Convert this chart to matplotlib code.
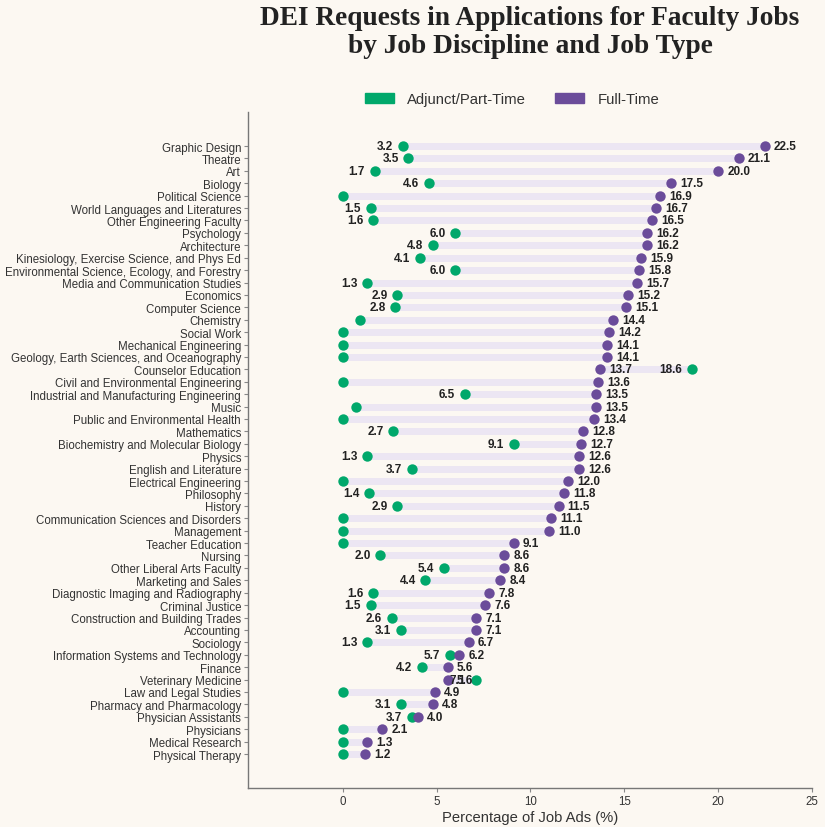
"""Dumbbell chart: DEI requests in faculty job ads by discipline and job type."""

import matplotlib.pyplot as plt
from matplotlib.patches import Patch

disciplines = [
    "Graphic Design", "Theatre", "Art", "Biology", "Political Science",
    "World Languages and Literatures", "Other Engineering Faculty", "Psychology",
    "Architecture", "Kinesiology, Exercise Science, and Phys Ed",
    "Environmental Science, Ecology, and Forestry", "Media and Communication Studies",
    "Economics", "Computer Science", "Chemistry", "Social Work",
    "Mechanical Engineering", "Geology, Earth Sciences, and Oceanography",
    "Counselor Education", "Civil and Environmental Engineering",
    "Industrial and Manufacturing Engineering", "Music",
    "Public and Environmental Health", "Mathematics",
    "Biochemistry and Molecular Biology", "Physics", "English and Literature",
    "Electrical Engineering", "Philosophy", "History",
    "Communication Sciences and Disorders", "Management", "Teacher Education",
    "Nursing", "Other Liberal Arts Faculty", "Marketing and Sales",
    "Diagnostic Imaging and Radiography", "Criminal Justice",
    "Construction and Building Trades", "Accounting", "Sociology",
    "Information Systems and Technology", "Finance", "Veterinary Medicine",
    "Law and Legal Studies", "Pharmacy and Pharmacology", "Physician Assistants",
    "Physicians", "Medical Research", "Physical Therapy",
]
full_time = [
    22.5, 21.1, 20.0, 17.5, 16.9, 16.7, 16.5, 16.2, 16.2, 15.9,
    15.8, 15.7, 15.2, 15.1, 14.4, 14.2, 14.1, 14.1, 13.7, 13.6,
    13.5, 13.5, 13.4, 12.8, 12.7, 12.6, 12.6, 12.0, 11.8, 11.5,
    11.1, 11.0, 9.1, 8.6, 8.6, 8.4, 7.8, 7.6, 7.1, 7.1,
    6.7, 6.2, 5.6, 5.6, 4.9, 4.8, 4.0, 2.1, 1.3, 1.2,
]
adjunct = [
    3.2, 3.5, 1.7, 4.6, 0.0, 1.5, 1.6, 6.0, 4.8, 4.1,
    6.0, 1.3, 2.9, 2.8, 0.9, 0.0, 0.0, 0.0, 18.6, 0.0,
    6.5, 0.7, 0.0, 2.7, 9.1, 1.3, 3.7, 0.0, 1.4, 2.9,
    0.0, 0.0, 0.0, 2.0, 5.4, 4.4, 1.6, 1.5, 2.6, 3.1,
    1.3, 5.7, 4.2, 7.1, 0.0, 3.1, 3.7, 0.0, 0.0, 0.0,
]

BG = "#fcf8f2"
GREEN = "#00a86b"
PURPLE = "#6b4c9a"
BAND = "#ece6f3"
TEXT = "#333333"

plt.rcParams["font.family"] = ["Liberation Sans", "DejaVu Sans"]

fig = plt.figure(figsize=(8.25, 8.28), dpi=100, facecolor=BG)
ax = fig.add_axes([0.3006, 0.0471, 0.6836, 0.8164], facecolor=BG)

ys = list(range(len(disciplines)))

# light band between the two job types
for y, a, f in zip(ys, adjunct, full_time):
    ax.plot([min(a, f), max(a, f)], [y, y], color=BAND, lw=5,
            solid_capstyle="butt", zorder=1)

ax.scatter(adjunct, ys, s=56, color=GREEN, zorder=3, linewidths=0)
ax.scatter(full_time, ys, s=56, color=PURPLE, zorder=3, linewidths=0)

for y, a, f in zip(ys, adjunct, full_time):
    ax.annotate(f"{f:.1f}", xy=(f, y), xytext=(6.5, 0), textcoords="offset points",
                ha="left", va="center", fontsize=8.5, fontweight="bold", color="#222222")
    if a >= 1.0:
        ax.annotate(f"{a:.1f}", xy=(a, y), xytext=(-7, 0), textcoords="offset points",
                    ha="right", va="center", fontsize=8.5, fontweight="bold", color="#222222")

ax.set_xlim(-5.05, 25)
ax.set_ylim(len(disciplines) - 1 + 2.74, -2.74)
ax.set_xticks([0, 5, 10, 15, 20, 25])
ax.set_yticks(ys)
ax.set_yticklabels(disciplines)
ax.tick_params(axis="y", labelsize=8.3, labelcolor=TEXT, color="#888888", length=3, pad=2)
ax.tick_params(axis="x", labelsize=8.3, labelcolor=TEXT, color="#888888", length=3, pad=2)
ax.set_xlabel("Percentage of Job Ads (%)", fontsize=10.6, color=TEXT, labelpad=2)

for side in ("top", "right"):
    ax.spines[side].set_visible(False)
for side in ("left", "bottom"):
    ax.spines[side].set_color("#777777")
    ax.spines[side].set_linewidth(1.0)

fig.text(0.6424, 0.9605, "DEI Requests in Applications for Faculty Jobs\nby Job Discipline and Job Type",
         ha="center", va="center", fontsize=19.7, fontweight="bold",
         family=["Liberation Serif", "DejaVu Serif"], color="#222222", linespacing=1.13)

handles = [Patch(color=GREEN, label="Adjunct/Part-Time"),
           Patch(color=PURPLE, label="Full-Time")]
fig.legend(handles=handles, loc="center", bbox_to_anchor=(0.6206, 1 - 100 / 828), ncol=2,
           frameon=False, fontsize=10.7, handlelength=1.95, handleheight=0.67,
           handletextpad=0.88, columnspacing=2.0, labelcolor=TEXT)

fig.savefig("out.png", dpi=100, facecolor=BG)
